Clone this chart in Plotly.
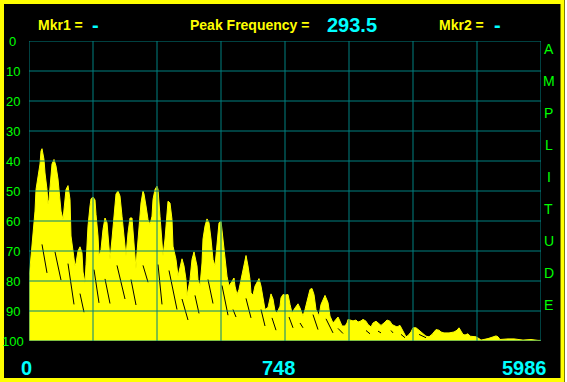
import plotly.graph_objects as go

# ---- data ----
bins = [0, 2, 4, 6, 7, 9, 11, 12, 13, 15, 16, 18, 19, 20, 22, 23, 25, 27, 29, 31, 32, 34, 36, 37, 39, 41, 42, 44, 46, 47,
        49, 51, 53, 54, 56, 57, 59, 61, 62, 64, 66, 67, 69, 70, 72, 74, 76, 78, 80, 81, 83, 85, 87, 89, 91, 93, 96, 97, 99, 101,
        103, 104, 106, 107, 108, 110, 112, 114, 115, 117, 119, 121, 123, 124, 126, 128, 129, 131, 133, 134, 136, 138, 139, 141, 143, 144, 147, 149, 151, 153,
        155, 157, 158, 161, 163, 165, 168, 169, 171, 173, 174, 176, 178, 180, 182, 184, 186, 188, 190, 192, 194, 196, 198, 200, 203, 205, 206, 208, 210, 212,
        214, 216, 217, 219, 221, 222, 224, 226, 229, 230, 232, 235, 236, 239, 240, 242, 244, 246, 248, 251, 252, 254, 256, 259, 261, 263, 266, 269, 271, 274,
        276, 279, 281, 283, 285, 287, 290, 292, 295, 296, 299, 301, 304, 308, 309, 311, 313, 316, 318, 319, 322, 324, 327, 329, 332, 334, 337, 339, 342, 344,
        347, 349, 352, 355, 358, 361, 363, 366, 368, 371, 373, 375, 377, 379, 382, 384, 387, 390, 393, 397, 400, 403, 407, 410, 412, 415, 420, 425, 428, 430,
        432, 434, 436, 439, 441, 447, 450, 452, 459, 465, 467, 469, 471, 479, 485, 494, 502, 509, 512]
amplitude = [79.5, 71.7, 62, 56.7, 49.5, 45, 41, 36.7, 35.9, 39.5, 44, 49.5, 54.5, 52.8, 45, 41, 39.5, 41.7, 46, 51.7, 56.7, 59.5, 53.4, 49.5, 48.2, 52.8, 65, 70.5, 75, 74,
             70, 68.6, 70.6, 77, 80.6, 74.5, 61.7, 55, 52.6, 52, 53, 57.8, 65, 71.7, 69.5, 62.8, 59, 60.6, 69.5, 72.8, 66, 57.8, 51, 50, 51.7, 58.4, 68.4, 71.7, 64, 59,
             59, 64, 70.6, 76, 70.5, 60.6, 54, 50, 51, 55, 59.5, 61.2, 58.4, 52.8, 49.5, 48.4, 49.5, 58.4, 67, 71.7, 66, 57, 53.4, 54, 59.5, 68.4, 72.8, 78.4, 75, 72.6,
             75, 79.5, 85, 79.5, 72.8, 70.3, 75, 79.5, 81.7, 74, 66, 61.7, 59.3, 60.6, 66, 72.8, 75, 68.4, 60.6, 60, 66, 72.8, 78.4, 81.7, 80, 79, 81.7, 84.5, 82.8, 79.5,
             76, 72.8, 71.5, 75, 79.5, 84, 84.7, 81.7, 79.5, 79.2, 81.7, 87.3, 89.5, 88.8, 87.3, 84.3, 86, 90, 90.6, 88.4, 85.6, 84.5, 84.7, 84.5, 87.8, 90.6, 89, 87.6, 89, 91.7,
             89.5, 85, 82.8, 82.5, 84.5, 89.5, 91.7, 87.8, 85, 84.8, 87.2, 91.7, 94, 92.3, 92, 93.4, 95, 95, 94, 92.8, 93, 93.3, 93, 93.7, 93.3, 92.8, 93.4, 94.5, 95.3, 94,
             93.4, 94, 94.8, 94, 93, 93.4, 94.5, 95, 95.3, 94.8, 96, 97.5, 98.6, 98.2, 97, 95.6, 95.6, 96.4, 97.3, 98.4, 98.6, 97.8, 96.2, 96.4, 97, 97.3, 97.3, 97, 96.4, 95.6,
             96.7, 97.8, 98, 97.6, 98.4, 98.6, 99.2, 99.7, 99.2, 98.4, 98.3, 98.6, 99.5, 99.3, 99.3, 99.7, 99.5, 99.8, 99.8]

# secondary sweep streaks (start bin, start level, end bin, end level)
streak_bin0 = [13, 26, 39, 51, 65, 76, 88, 102, 114, 129, 140, 153, 166, 179, 193, 204, 217, 232, 243, 260, 271, 284, 297, 309, 337, 349, 362, 372, 390]
streak_db0 = [67.8, 70.3, 74.2, 84.2, 76.2, 79.3, 74.8, 79.5, 74.8, 74.5, 76.5, 86, 84.8, 79.5, 81.5, 89.5, 85.8, 89.5, 92.3, 92, 94, 91.2, 92.6, 95.8, 96.5, 96.7, 96.5, 97.8, 97.8]
streak_bin1 = [18, 32, 45, 55, 70, 81, 96, 107, 119, 133, 148, 159, 170, 184, 199, 207, 222, 236, 247, 264, 274, 289, 304, 314, 341, 352, 364, 376, 397]
streak_db1 = [77.3, 79.7, 87.8, 90.4, 87.3, 87.5, 86, 88, 80.4, 87.8, 89.5, 93, 90.8, 87.5, 91.4, 92, 92.3, 95, 96.4, 95.6, 95.6, 96.2, 97.3, 97.5, 97.6, 97.3, 97.3, 98.9, 98.9]

y_ticks = [0, 10, 20, 30, 40, 50, 60, 70, 80, 90, 100]
x_grid = [0, 64, 128, 192, 256, 320, 384, 448, 512]
x_labels = ["0", "748", "5986"]
x_label_left_px = [20, 261, 501]
side_title = "AMPLITUDE"
peak_freq = "293.5"

# ---- layout geometry ----
W, H = 567, 382
L, R, T, B = 29, 26, 41, 41
PW, PH = W - L - R, H - T - B


def px(xp):
    return (xp - L) / PW


def py(yp):
    return (H - B - yp) / PH


YEL = "#FFFF00"
CYAN = "#00FFFF"
GREEN = "#00FF00"
TEAL = "#008080"
FONT = "Liberation Sans"

fig = go.Figure()
fig.add_trace(go.Scatter(x=[bins[0], bins[-1]], y=[100, 100], mode="lines",
                         line=dict(width=0), hoverinfo="skip", showlegend=False))
fig.add_trace(go.Scatter(x=bins, y=amplitude, mode="lines", fill="tonexty",
                         fillcolor=YEL, line=dict(color=YEL, width=1), showlegend=False))

sx, sy = [], []
for a, b, c, d in zip(streak_bin0, streak_db0, streak_bin1, streak_db1):
    sx += [a, c, None]
    sy += [b, d, None]
fig.add_trace(go.Scatter(x=sx, y=sy, mode="lines", line=dict(color="black", width=1),
                         showlegend=False, hoverinfo="skip"))

shapes = []
for g in x_grid:
    shapes.append(dict(type="line", xref="x", yref="y", x0=g, x1=g, y0=0, y1=100,
                       line=dict(color=TEAL, width=1), layer="above"))
for g in y_ticks:
    shapes.append(dict(type="line", xref="x", yref="y", x0=0, x1=512, y0=g, y1=g,
                       line=dict(color=TEAL, width=1), layer="above"))
# yellow frame
shapes.append(dict(type="rect", xref="paper", yref="paper", x0=px(2), x1=px(562.5), y0=py(380), y1=py(2),
                   line=dict(color=YEL, width=4), fillcolor="rgba(0,0,0,0)", layer="above"))
shapes.append(dict(type="rect", xref="paper", yref="paper", x0=px(565), x1=px(568), y0=py(383), y1=py(-1),
                   line=dict(width=0), fillcolor="white", layer="above"))

ann = []
ytop = py(25.5)
ann.append(dict(text="Mkr1 =", x=px(36), y=ytop, xanchor="left", yanchor="middle",
                font=dict(family=FONT, size=14, color=YEL, weight="bold")))
ann.append(dict(text="-", x=px(90), y=ytop, xanchor="left", yanchor="middle",
                font=dict(family=FONT, size=20, color=CYAN, weight="bold")))
ann.append(dict(text="Peak Frequency =", x=px(188), y=ytop, xanchor="left", yanchor="middle",
                font=dict(family=FONT, size=14, color=YEL, weight="bold")))
ann.append(dict(text=peak_freq, x=px(325), y=ytop, xanchor="left", yanchor="middle",
                font=dict(family=FONT, size=20, color=CYAN, weight="bold")))
ann.append(dict(text="Mkr2 =", x=px(437), y=ytop, xanchor="left", yanchor="middle",
                font=dict(family=FONT, size=14, color=YEL, weight="bold")))
ann.append(dict(text="-", x=px(492), y=ytop, xanchor="left", yanchor="middle",
                font=dict(family=FONT, size=20, color=CYAN, weight="bold")))
for t, xl in zip(x_labels, x_label_left_px):
    ann.append(dict(text=t, x=px(xl - 1), y=py(368), xanchor="left", yanchor="middle",
                    font=dict(family=FONT, size=20, color=CYAN, weight="bold")))
for v in y_ticks:
    ann.append(dict(text=str(v), xref="paper", yref="y", x=px(12.5), y=v, xanchor="center", yanchor="middle",
                    font=dict(family=FONT, size=13, color=GREEN)))
for i, ch in enumerate(side_title):
    ann.append(dict(text=ch, x=px(548.5), y=py(49 + 32 * i), xanchor="center", yanchor="middle",
                    font=dict(family=FONT, size=14, color=GREEN)))
for a in ann:
    a.setdefault("xref", "paper")
    a.setdefault("yref", "paper")
    a["showarrow"] = False

fig.update_layout(
    width=W, height=H,
    margin=dict(l=L, r=R, t=T, b=B, pad=0),
    paper_bgcolor="black", plot_bgcolor="black",
    xaxis=dict(range=[0, 512], showgrid=False, zeroline=False, showticklabels=False, ticks="", fixedrange=True),
    yaxis=dict(range=[100, 0], showgrid=False, zeroline=False, showticklabels=False, ticks="", fixedrange=True),
    shapes=shapes, annotations=ann, showlegend=False,
)
fig.write_html("out.html", config={"displayModeBar": False})
